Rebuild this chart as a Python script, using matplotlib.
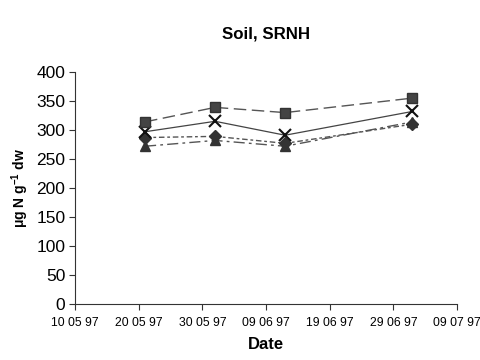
import matplotlib
matplotlib.use("Agg")
import matplotlib.pyplot as plt
import matplotlib.dates as mdates
import datetime as dt

plt.rcParams['font.family'] = ['Liberation Sans', 'DejaVu Sans']
plt.rcParams['mathtext.fontset'] = 'custom'
plt.rcParams['mathtext.rm'] = 'Liberation Sans'
plt.rcParams['mathtext.bf'] = 'Liberation Sans:bold'

dates = [dt.date(1997, 5, 21), dt.date(1997, 6, 1), dt.date(1997, 6, 12), dt.date(1997, 7, 2)]
square_vals = [314, 339, 330, 355]
cross_vals = [297, 315, 291, 332]
diamond_vals = [287, 289, 277, 310]
triangle_vals = [272, 282, 272, 314]

tick_dates = [dt.date(1997, 5, 10), dt.date(1997, 5, 20), dt.date(1997, 5, 30),
              dt.date(1997, 6, 9), dt.date(1997, 6, 19), dt.date(1997, 6, 29),
              dt.date(1997, 7, 9)]
yticks = [0, 50, 100, 150, 200, 250, 300, 350, 400]

fig = plt.figure(figsize=(4.81, 3.6), dpi=100)
ax = fig.add_axes([75/481, 1-304/360, (457-75)/481, (304-72)/360])

ax.plot(dates, triangle_vals, color='#555555', lw=1, ls=(0, (8, 3, 2, 3)),
        marker='^', ms=7, mfc='#333333', mec='#333333')
ax.plot(dates, diamond_vals, color='#555555', lw=1, ls=(0, (4, 2, 2, 2)),
        marker='D', ms=6, mfc='#333333', mec='#333333')
ax.plot(dates, cross_vals, color='#444444', lw=0.9, ls='-',
        marker='x', ms=8, mew=1.5, mec='#111111')
ax.plot(dates, square_vals, color='#555555', lw=1, ls=(0, (9, 4)),
        marker='s', ms=7, mfc='#444444', mec='#333333')

ax.set_xlim(mdates.date2num(tick_dates[0]), mdates.date2num(tick_dates[-1]))
ax.set_ylim(0, 400)
ax.set_xticks([mdates.date2num(d) for d in tick_dates])
ax.xaxis.set_major_formatter(mdates.DateFormatter('%d %m %y'))
ax.set_yticks(yticks)

for s in ['top', 'right']:
    ax.spines[s].set_visible(False)
for s in ['left', 'bottom']:
    ax.spines[s].set_color('#333333')
    ax.spines[s].set_linewidth(0.8)

ax.tick_params(axis='x', labelsize=8.8, length=4, width=0.8, color='#333333', pad=5)
ax.tick_params(axis='y', labelsize=12.5, length=4, width=0.8, color='#333333', pad=3)

ax.set_xlabel('Date', fontsize=12, fontweight='bold', labelpad=6)
ax.set_ylabel(r'μg N g$^{\mathbf{-1}}$ dw', fontsize=10, fontweight='bold', labelpad=4)
fig.text(266/481, 1-34/360, 'Soil, SRNH', ha='center', va='center',
         fontsize=12.2, fontweight='bold')

fig.savefig('out.png', dpi=100)
